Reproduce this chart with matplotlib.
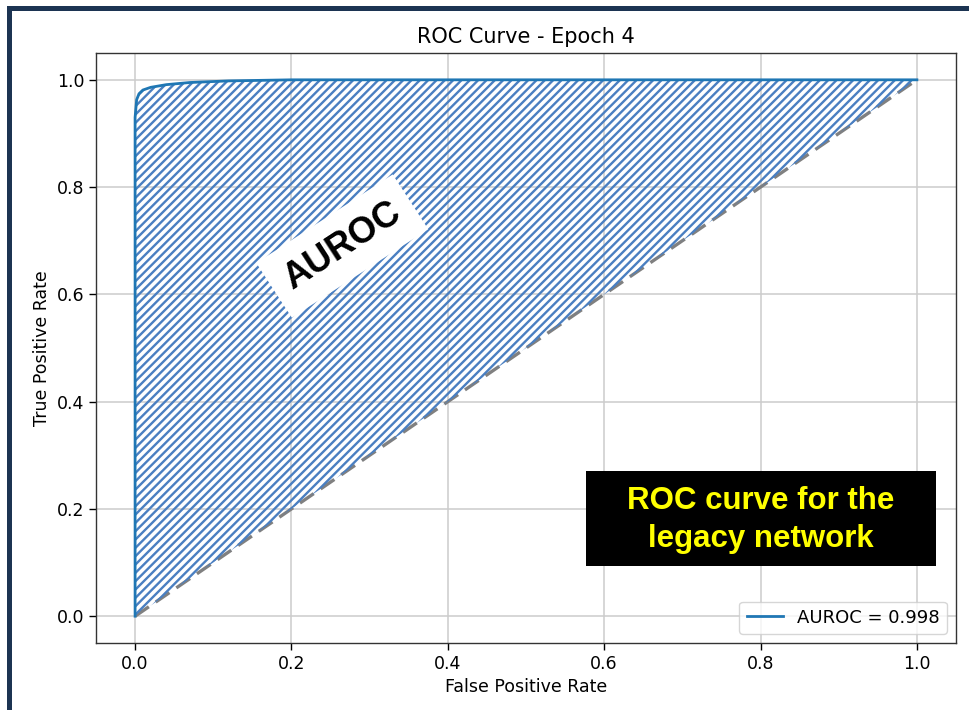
"""Recreate the ROC curve chart with hatched AUROC area."""

from matplotlib import pyplot as plt
from matplotlib.patches import Rectangle
import numpy as np

# ROC curve points
fpr = [0.0, 0.0, 0.0, 0.002, 0.005, 0.01, 0.02, 0.04, 0.07, 0.12, 0.2, 1.0]
tpr = [0.0, 0.5, 0.93, 0.963, 0.974, 0.981, 0.986, 0.991, 0.995, 0.998, 1.0, 1.0]
auroc = 0.998
title = "ROC Curve - Epoch 4"
note = "ROC curve for the\nlegacy network"

W, H = 969, 710
fig = plt.figure(figsize=(W / 100, H / 100), dpi=100)
ax = fig.add_axes([96 / W, 1 - 643 / H, 860 / W, 590 / H])

fpr_a = np.array(fpr)
tpr_a = np.array(tpr)

plt.rcParams['hatch.linewidth'] = 1.7
ax.plot([0, 1], [0, 1], color='gray', linestyle='--', linewidth=2.4,
        dashes=(5, 2.5), zorder=2)
ax.fill_between(fpr_a, tpr_a, fpr_a, facecolor='none', edgecolor='#4a7fc1',
                hatch='////', linewidth=0, zorder=3)
ax.plot(fpr_a, tpr_a, color='#1f77b4', linewidth=2.0,
        label=f"AUROC = {auroc:.3f}", zorder=4)

ax.set_xlim(-0.05, 1.05)
ax.set_ylim(-0.05, 1.05)
ax.set_xticks([0.0, 0.2, 0.4, 0.6, 0.8, 1.0])
ax.set_yticks([0.0, 0.2, 0.4, 0.6, 0.8, 1.0])
ax.grid(True, color='#cccccc', linewidth=1.1, zorder=0)
ax.set_axisbelow(True)
ax.tick_params(labelsize=12.5, length=5, width=1.0)
for sp in ax.spines.values():
    sp.set_linewidth(1.0)
    sp.set_color('#333333')

ax.set_title(title, fontsize=15, pad=7)
ax.set_xlabel("False Positive Rate", fontsize=12.5)
ax.set_ylabel("True Positive Rate", fontsize=12.5)
ax.legend(loc='lower right', fontsize=13, handlelength=2.0)

# rotated AUROC tag on the hatched area
ax.text(0.265, 0.69, "AUROC", rotation=33, fontsize=26, fontweight='bold',
        family='Liberation Sans', ha='center', va='center', zorder=5,
        bbox=dict(facecolor='white', edgecolor='none', pad=11))

# black note box with yellow text
ax.add_patch(Rectangle((0.5698, 0.1305), 0.4069, 0.161, transform=ax.transAxes,
                       facecolor='black', edgecolor='none', zorder=6))
ax.text(0.7733, 0.2085, note, transform=ax.transAxes, color='#ffff00',
        fontsize=22.5, fontweight='bold', family='Liberation Sans',
        ha='center', va='center', linespacing=1.35, zorder=7)

# navy slide frame along top and left
navy = '#1c3452'
fig.add_artist(Rectangle((7 / W, 1 - 11 / H), 1.0, 5 / H,
                         transform=fig.transFigure, facecolor=navy, edgecolor='none'))
fig.add_artist(Rectangle((7 / W, 0), 5 / W, 1 - 6 / H,
                         transform=fig.transFigure, facecolor=navy, edgecolor='none'))

fig.savefig("out.png", dpi=100)
